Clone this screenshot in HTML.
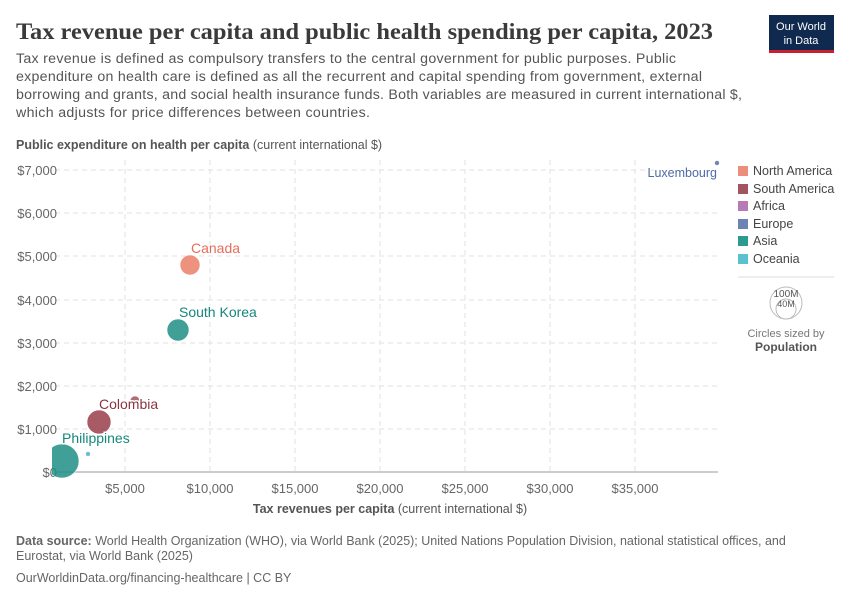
<!DOCTYPE html>
<html><head><meta charset="utf-8"><style>
body{margin:0;background:#fff;width:850px;height:600px;overflow:hidden;font-family:"Liberation Sans",sans-serif}
</style></head><body>
<svg width="850" height="600" xmlns="http://www.w3.org/2000/svg" font-family="Liberation Sans, sans-serif">
<defs><clipPath id="pc"><rect x="52" y="150" width="670" height="340"/></clipPath></defs>
<text x="16" y="39" font-family="Liberation Serif, serif" font-size="23" font-weight="bold" fill="#3a3a3a" textLength="697" lengthAdjust="spacingAndGlyphs">Tax revenue per capita and public health spending per capita, 2023</text>
<rect x="769" y="15" width="65" height="37" fill="#0f2a4e"/>
<rect x="769" y="50" width="65" height="3" fill="#c8202e"/>
<text x="801" y="30" font-size="11" fill="#fff" text-anchor="middle">Our World</text>
<text x="801" y="44" font-size="11" fill="#fff" text-anchor="middle">in Data</text>
<g font-size="14.2" fill="#555" lengthAdjust="spacingAndGlyphs">
<text x="16" y="63" textLength="660">Tax revenue is defined as compulsory transfers to the central government for public purposes. Public</text>
<text x="16" y="81" textLength="686">expenditure on health care is defined as all the recurrent and capital spending from government, external</text>
<text x="16" y="99" textLength="726">borrowing and grants, and social health insurance funds. Both variables are measured in current international $,</text>
<text x="16" y="117" textLength="354">which adjusts for price differences between countries.</text>
</g>
<text x="16" y="149" font-size="12.5" fill="#555"><tspan font-weight="bold">Public expenditure on health per capita</tspan> (current international $)</text>
<g stroke="#e2e2e2" stroke-dasharray="5,4">
<line x1="55" x2="718" y1="429" y2="429"/><line x1="55" x2="718" y1="386" y2="386"/><line x1="55" x2="718" y1="343" y2="343"/><line x1="55" x2="718" y1="300" y2="300"/><line x1="55" x2="718" y1="256" y2="256"/><line x1="55" x2="718" y1="213" y2="213"/><line x1="55" x2="718" y1="170" y2="170"/>
<line y1="160" y2="472" x1="125" x2="125"/><line y1="160" y2="472" x1="210" x2="210"/><line y1="160" y2="472" x1="295" x2="295"/><line y1="160" y2="472" x1="380" x2="380"/><line y1="160" y2="472" x1="465" x2="465"/><line y1="160" y2="472" x1="550" x2="550"/><line y1="160" y2="472" x1="635" x2="635"/>
</g>
<line x1="55" x2="718" y1="472" y2="472" stroke="#999"/>
<g font-size="13" fill="#666" text-anchor="end">
<text x="57" y="477">$0</text><text x="57" y="434">$1,000</text><text x="57" y="391">$2,000</text><text x="57" y="348">$3,000</text><text x="57" y="305">$4,000</text><text x="57" y="261">$5,000</text><text x="57" y="218">$6,000</text><text x="57" y="175">$7,000</text>
</g>
<g font-size="13" fill="#666" text-anchor="middle">
<text x="125" y="493">$5,000</text><text x="210" y="493">$10,000</text><text x="295" y="493">$15,000</text><text x="380" y="493">$20,000</text><text x="465" y="493">$25,000</text><text x="550" y="493">$30,000</text><text x="635" y="493">$35,000</text>
</g>
<text x="390" y="513" font-size="12.5" fill="#555" text-anchor="middle"><tspan font-weight="bold">Tax revenues per capita</tspan> (current international $)</text>
<g stroke="#fff" stroke-width="0.6" opacity="0.85" clip-path="url(#pc)">
<circle cx="135" cy="401" r="5" fill="#a2555f"/>
<circle cx="190" cy="265" r="10" fill="#ec7f6b"/>
<circle cx="178" cy="330" r="11" fill="#1f8f84"/>
<circle cx="99" cy="422" r="12" fill="#993f4a"/>
<circle cx="62" cy="461" r="17" fill="#1f8f84"/>
<circle cx="88" cy="454" r="2.5" fill="#4eb6c6"/>
<circle cx="717" cy="163" r="2.5" fill="#5a6fa8"/>
</g>
<g font-size="14" stroke="#fff" stroke-width="3" paint-order="stroke">
<text x="191" y="253" fill="#e56e5a">Canada</text>
<text x="179" y="317" fill="#15877c">South Korea</text>
<text x="99" y="409" fill="#8a3540">Colombia</text>
<text x="62" y="443" fill="#15877c">Philippines</text>
<text x="717" y="177" fill="#4c6aa5" font-size="12.5" text-anchor="end">Luxembourg</text>
</g>
<g font-size="12.5" fill="#444">
<rect x="738" y="166" width="10" height="10" fill="#ec8e7c"/><text x="753" y="175">North America</text>
<rect x="738" y="184" width="10" height="10" fill="#a2555f"/><text x="753" y="193">South America</text>
<rect x="738" y="201" width="10" height="10" fill="#b77ab7"/><text x="753" y="210">Africa</text>
<rect x="738" y="219" width="10" height="10" fill="#6d83b6"/><text x="753" y="228">Europe</text>
<rect x="738" y="236" width="10" height="10" fill="#2c9a8f"/><text x="753" y="245">Asia</text>
<rect x="738" y="254" width="10" height="10" fill="#5bc0cf"/><text x="753" y="263">Oceania</text>
</g>
<line x1="738" x2="834" y1="277" y2="277" stroke="#ddd"/>
<circle cx="786" cy="303" r="16" fill="none" stroke="#bbb"/>
<circle cx="786" cy="309" r="10" fill="none" stroke="#bbb"/>
<text x="786" y="297" font-size="10" fill="#555" text-anchor="middle">100M</text>
<text x="786" y="307" font-size="9" fill="#555" text-anchor="middle">40M</text>
<text x="786" y="337" font-size="11" fill="#777" text-anchor="middle">Circles sized by</text>
<text x="786" y="351" font-size="12" fill="#555" font-weight="bold" text-anchor="middle">Population</text>
<g font-size="12.5" fill="#666">
<text x="16" y="545"><tspan font-weight="bold">Data source:</tspan> World Health Organization (WHO), via World Bank (2025); United Nations Population Division, national statistical offices, and</text>
<text x="16" y="560">Eurostat, via World Bank (2025)</text>
<text x="16" y="582">OurWorldinData.org/financing-healthcare | CC BY</text>
</g>
</svg>
</body></html>
